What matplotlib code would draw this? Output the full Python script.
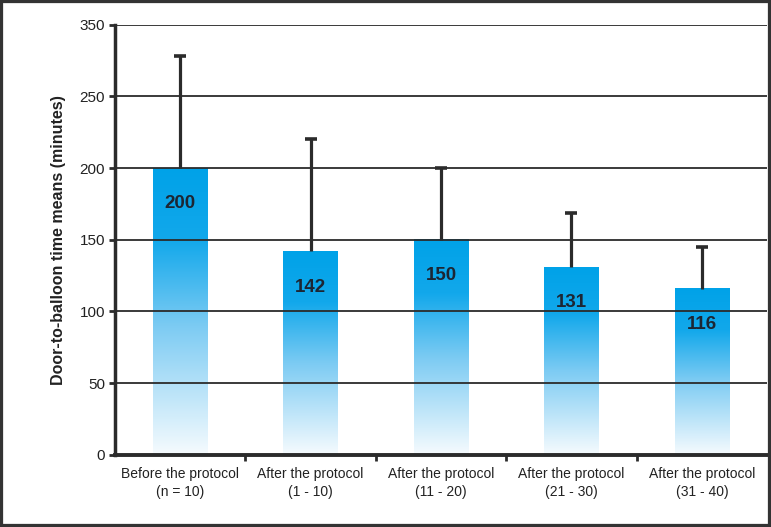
import numpy as np
import matplotlib
matplotlib.use("Agg")
import matplotlib.pyplot as plt
from matplotlib.colors import LinearSegmentedColormap
from matplotlib.patches import Rectangle

plt.rcParams['font.family'] = ['Liberation Sans', 'DejaVu Sans']

# data
categories = ["Before the protocol\n(n = 10)", "After the protocol\n(1 - 10)",
              "After the protocol\n(11 - 20)", "After the protocol\n(21 - 30)",
              "After the protocol\n(31 - 40)"]
means = [200, 142, 150, 131, 116]
upper = [278, 220, 200, 169, 145]   # top of the error whiskers
ytick_values = [0, 50, 100, 150, 200, 250, 300]
ytick_labels = ["0", "50", "100", "150", "200", "250", "350"]

dark = "#2b2b2b"
cmap = LinearSegmentedColormap.from_list(
    "bar", [(0.0, "#f6fbfe"), (0.45, "#7ccbf3"), (0.75, "#12a8eb"), (1.0, "#00a2e8")])

fig = plt.figure(figsize=(7.71, 5.27), dpi=100)
ax = fig.add_axes([0.149, 0.137, 0.846, 0.816])

x = np.arange(len(means))
bars = ax.bar(x, means, width=0.42, color="none", zorder=1)
grad = np.linspace(0, 1, 256).reshape(-1, 1)
for b in bars:
    bx, bw, bh = b.get_x(), b.get_width(), b.get_height()
    ax.imshow(grad, extent=[bx, bx + bw, 0, bh], origin="lower", aspect="auto",
              cmap=cmap, zorder=1)

# upper-only error whiskers
ax.vlines(x, means, upper, color=dark, linewidth=2.3, zorder=3)
ax.plot(x, upper, linestyle="none", marker="_", markersize=9,
        markeredgewidth=2.6, color=dark, zorder=3)

for xi, m in zip(x, means):
    ax.text(xi, m - 25, str(m), ha="center", va="center", fontsize=13.5,
            fontweight="bold", color="#1c2633", zorder=4)

ax.set_xlim(-0.5, len(means) - 0.5)
ax.set_ylim(0, 300)
ax.set_yticks(ytick_values)
ax.set_yticklabels(ytick_labels, fontsize=11, color="#222222")
ax.set_xticks(x)
ax.set_xticklabels(categories, fontsize=10, color="#222222", linespacing=1.3)
ax.set_xticks(np.arange(len(means) - 1) + 0.5, minor=True)
ax.tick_params(axis="x", which="major", length=0, pad=9)
ax.tick_params(axis="x", which="minor", length=4, width=2, color=dark, direction="out")
ax.tick_params(axis="y", length=4, width=2, color=dark, pad=3)

ax.grid(axis="y", color=dark, linewidth=1.3, zorder=2)
ax.set_axisbelow(False)
for s in ["top", "right"]:
    ax.spines[s].set_visible(False)
ax.spines["left"].set_linewidth(2.5)
ax.spines["bottom"].set_linewidth(2.8)
ax.spines["left"].set_color(dark)
ax.spines["bottom"].set_color(dark)

ax.set_ylabel("Door-to-balloon time means (minutes)", fontsize=11.5,
              fontweight="bold", color="#222222", labelpad=10)

fig.patches.append(Rectangle((0, 0), 1, 1, transform=fig.transFigure,
                             fill=False, edgecolor="#333333", linewidth=4.5))

fig.savefig("out.png", dpi=100)
